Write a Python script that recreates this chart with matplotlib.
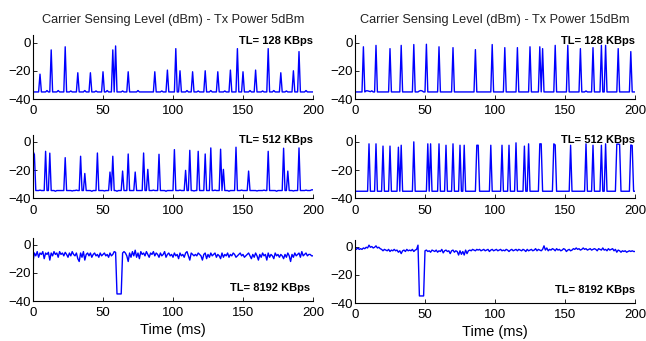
import numpy as np
import matplotlib
matplotlib.use("Agg")
import matplotlib.pyplot as plt

plt.rcParams['font.family'] = ['Liberation Sans', 'DejaVu Sans']

time_ms = np.arange(0, 201)

titles = ["Carrier Sensing Level (dBm) - Tx Power 5dBm",
          "Carrier Sensing Level (dBm) - Tx Power 15dBm"]
tl_labels = ["TL= 128 KBps", "TL= 512 KBps", "TL= 8192 KBps"]
xticks = [0, 50, 100, 150, 200]
yticks = [-40, -20, 0]

# ---- 5 dBm, 128 KBps: spikes over a -35 dBm floor
p5_128_base = -35
p5_128_spike_t = [5, 13, 23, 32, 41, 50, 57, 59, 68, 87, 96, 102, 105, 114, 123,
                  132, 141, 146, 150, 159, 168, 177, 186, 190]
p5_128_spike_v = [-22.4, -5.2, -3, -21.4, -21.4, -20.7, -5.2, -2.4, -20.7, -20.7,
                  -19.5, -4.3, -20, -20.7, -20, -20.7, -19.5, -4.3, -20.7, -19.5,
                  -4.3, -21.4, -20, -6.4]
p5_128_bump_t = [10, 18, 27, 37, 45, 53, 64, 75, 92, 110, 118, 127, 137, 155, 164, 172, 181, 195]
p5_128_bump_v = [-34, -34, -34.3, -34, -34.3, -34, -34.3, -34, -34.3, -34, -34.3,
                 -34, -34.3, -34, -34.3, -34, -34.3, -34]

# ---- 15 dBm, 128 KBps
p15_128_base = -35
p15_128_spike_t = [6, 15, 25, 33, 42, 51, 60, 70, 86, 98, 107, 116, 125, 132, 134,
                   143, 152, 161, 170, 176, 179, 188, 197]
p15_128_spike_v = [-3, -2, -4.3, -2, -1.4, -1.2, -3, -3.6, -5, -1.4, -3.6, -3.6,
                   -3, -3, -4.3, -2, -2, -4.3, -3.6, -2, -2, -4.3, -6.4]
p15_128_bump_t = [8, 9, 10, 11, 12, 46, 47, 48, 165]
p15_128_bump_v = [-34.2, -34.2, -34.5, -34.8, -34.2, -34.3, -34, -34.3, -34.3]

# ---- 5 dBm, 512 KBps
p5_512_base = -34.5
p5_512_spike_t = [0, 1, 9, 12, 23, 34, 37, 46, 55, 57, 64, 68, 73, 79, 82, 90,
                  101, 109, 112, 118, 123, 127, 134, 136, 145, 154, 168, 179, 182, 190]
p5_512_spike_v = [-6.7, -9, -6.7, -8, -11.2, -10.2, -22.4, -7.9, -21.4, -10.2,
                  -20.7, -8.6, -21.4, -7.9, -19.5, -8.8, -5.5, -20.2, -6, -6.7,
                  -8.6, -4.3, -5.2, -19.5, -3.8, -20.7, -6.7, -4.5, -20.7, -4.3]
p5_512_bump_t = [5, 16, 28, 31, 42, 51, 60, 86, 95, 105, 115, 130, 140, 149, 160, 165, 174, 186, 195, 199, 200]
p5_512_bump_v = [-34.2, -35, -34.8, -34.2, -35, -34.8, -35, -34.2, -35, -34.2,
                 -34.8, -34.2, -35, -34.2, -34.8, -34.2, -35, -34.8, -34.2, -34, -34]

# ---- 15 dBm, 512 KBps
p15_512_base = -35
p15_512_spike_t = [10, 15, 20, 25, 31, 33, 42, 52, 54, 60, 65, 70, 75, 78, 87, 88,
                   97, 105, 110, 115, 121, 124, 132, 133, 142, 143, 154, 165, 170,
                   176, 179, 187, 188, 189, 197, 198]
p15_512_spike_v = [-1.4, -1.4, -3, -3, -3.8, -2.4, 0, -1.4, -1.4, -1.4, -2.4, -1.4,
                   -2.4, -2.4, -2.4, -2.4, -2.4, -2.4, -2.4, -0.7, -3, -1.4, -1.4,
                   -1.4, -1.4, -2.2, -2.4, -1.4, -2.4, -2.4, -1.4, -1.6, -1.6, -1.8,
                   -2.2, -2.6]
p15_512_bump_t = []
p15_512_bump_v = []

# ---- 5 dBm, 8192 KBps (fully read values)
p5_8192 = [-12, -6, -8, -5, -9, -6, -7, -5, -10, -6, -7, -5.5, -11, -6, -8, -5, -7, -6, -9, -5,
           -7, -6, -8, -5.5, -7, -9, -6, -8, -5, -7, -8, -6, -10, -12, -6, -9, -5, -11, -7, -6,
           -8, -6, -9, -7, -6, -8, -7, -9, -6, -8, -7, -6, -8, -7, -9, -6, -8, -7, -5, -5.5,
           -35, -35, -35, -35, -6, -5, -6, -8, -12, -6, -9, -5, -8, -4, -9, -6, -10, -5, -7, -6,
           -8, -5, -7, -9, -6, -7, -5, -8, -6, -7, -9, -6, -8, -7, -5, -9, -7, -6, -8, -7,
           -9, -6, -8, -7, -10, -6, -8, -7, -9, -6, -5, -8, -11, -6, -7, -8, -7, -8, -6, -7,
           -8, -11, -7, -6, -10, -7, -9, -6, -8, -7, -6, -9, -7, -8, -10, -6, -9, -7, -8, -6,
           -9, -7, -8, -6, -7, -9, -8, -7, -6, -8, -7, -9, -8, -7, -6, -8, -10, -7, -9, -6,
           -8, -11, -7, -9, -6, -8, -7, -11, -6, -9, -7, -8, -10, -6, -8, -7, -9, -7, -8, -10,
           -7, -9, -6, -8, -12, -7, -9, -6, -8, -7, -6, -9, -5, -8, -7, -6, -8, -7, -7, -8, -8]

# ---- 15 dBm, 8192 KBps (fully read values)
p15_8192 = [-1, -2, -1, -2, -1.5, -2, -1, -1.5, -0.5, -1, 1, -0.5, 0, -1, -0.5, 0.5, -1, -0.5, -1.5, -2,
            -3, -2, -2.5, -3, -2, -3.5, -2.5, -3, -2, -3, -2.5, -4, -3, -5, -3, -2.5, -3.5, -2, -3, -2.5,
            -3, -2, -3.5, -2.5, -2, 1, -35, -35, -35, -35, -3, -2.5, -3.5, -3, -4, -2.5, -3, -3.5, -2.5, -4,
            -3, -3.5, -2, -4.5, -3, -2.5, -3.5, -3, -5, -3, -2.5, -4, -3, -3.5, -6, -3, -5.5, -3.5, -6, -2.5,
            -5, -3, -2.5, -3, -2, -2.5, -3, -2, -2.5, -2, -3, -2.5, -2, -3, -2.5, -2, -3.5, -2.5, -2, -3,
            -2.5, -2, -3, -2.5, -2, -3, -2.5, -3, -2, -2.5, -3.5, -2.5, -2, -3, -2.5, -2, -3, -2, -2.5, -3,
            -2, -2.5, -3.5, -2, -3, -2.5, -2, -3, -2.5, -1.5, -3, -2, -2.5, -3, -2, 0.5, -2.5, -1, -3, -2,
            -2.5, -1.5, -2, -3, -1.5, -2.5, -2, -3, -2.5, -1.5, -2, -3.5, -2.5, -2, -3, -2.5, -1.5, -2, -1, -2,
            -1.5, -2.5, -2, -1, -2, -1.5, -2.5, -2, -1.5, -2.5, -2, -1.5, -2, -3, -1.5, -2, -2.5, -1, -2.5, -2,
            -3, -1.5, -2.5, -2, -1.5, -3, -2, -4, -2.5, -3, -4, -3, -3.5, -3, -4, -3.5, -3, -3.5, -3, -3.5, -3.5]


def build(base, spike_t, spike_v, bump_t, bump_v):
    y = np.full(time_ms.shape, float(base))
    for tt, vv in zip(bump_t, bump_v):
        y[tt] = vv
    for tt, vv in zip(spike_t, spike_v):
        y[tt] = vv
    return y


series = [
    [build(p5_128_base, p5_128_spike_t, p5_128_spike_v, p5_128_bump_t, p5_128_bump_v),
     build(p15_128_base, p15_128_spike_t, p15_128_spike_v, p15_128_bump_t, p15_128_bump_v)],
    [build(p5_512_base, p5_512_spike_t, p5_512_spike_v, p5_512_bump_t, p5_512_bump_v),
     build(p15_512_base, p15_512_spike_t, p15_512_spike_v, p15_512_bump_t, p15_512_bump_v)],
    [np.array(p5_8192, dtype=float), np.array(p15_8192, dtype=float)],
]

fig = plt.figure(figsize=(6.46, 3.41), dpi=100)
W, H = 646.0, 341.0
col_x = [33 / W, 355 / W]
col_w = 280 / W
row_h = 63.5 / H
row_bottoms = [[1 - 99 / H, 1 - 99 / H],
               [1 - 198.3 / H, 1 - 198.3 / H],
               [1 - 301 / H, 1 - 303 / H]]

for r in range(3):
    for c in range(2):
        ax = fig.add_axes([col_x[c], row_bottoms[r][c], col_w, row_h])
        ax.plot(time_ms, series[r][c], color='#0000ff', lw=1.0)
        ax.set_xlim(0, 200)
        ax.set_ylim(-40, 5)
        ax.set_xticks(xticks)
        ax.set_yticks(yticks)
        ax.spines['top'].set_visible(False)
        ax.spines['right'].set_visible(False)
        for s in ['left', 'bottom']:
            ax.spines[s].set_linewidth(0.8)
        ax.tick_params(axis='both', direction='in', length=3, width=0.6, labelsize=9.5)
        ax.tick_params(axis='x', pad=4.5)
        ax.tick_params(axis='y', pad=1.5)
        if r < 2:
            ax.text(200, 1, tl_labels[r], ha='right', va='center',
                    fontsize=8, fontweight='bold')
        else:
            ax.text(198 if c == 0 else 200, -30.8, tl_labels[r], ha='right', va='center',
                    fontsize=8, fontweight='bold')
        if r == 0:
            ax.set_title(titles[c], fontsize=9.2, pad=9, color='#222222')
        if r == 2:
            ax.set_xlabel("Time (ms)", fontsize=10.5, labelpad=2.5)

fig.savefig("out.png", dpi=100)
